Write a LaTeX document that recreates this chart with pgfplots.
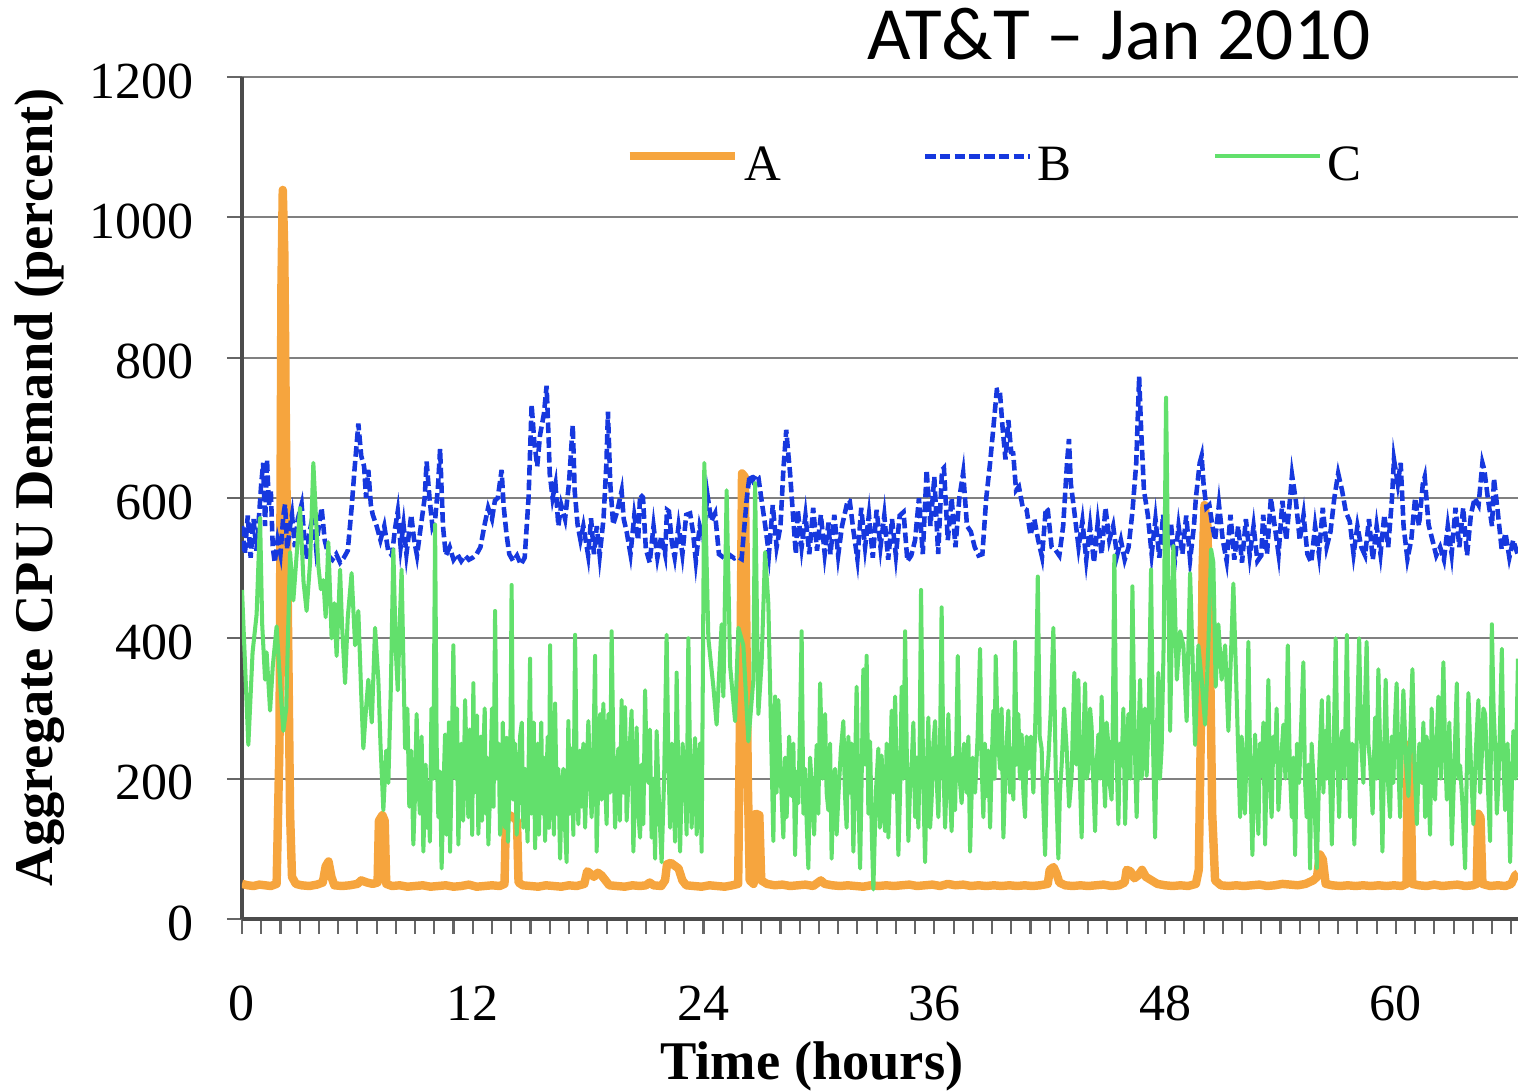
\documentclass[border=0pt]{standalone}
\usepackage{pgfplots}
\pgfplotsset{compat=1.18}
\usepackage{fontspec}
\setmainfont{Liberation Serif}
\newfontfamily\calibri{Carlito}
\definecolor{cA}{RGB}{246,165,62}
\definecolor{cB}{RGB}{22,56,222}
\definecolor{cC}{RGB}{98,224,108}
\begin{document}
\begin{tikzpicture}
\path[use as bounding box] (-2.42,-1.73) rectangle (12.76,9.19);
\begin{axis}[
  scale only axis, width=12.76cm, height=8.42cm,
  xmin=0, xmax=66.35, ymin=0, ymax=1200,
  axis x line=bottom, axis y line=left,
  axis line style={-, draw=black!70, line width=0.9pt},
  xtick={0,12,24,36,48,60}, minor xtick={0,1,...,66},
  ytick={0,200,400,600,800,1000,1200},
  tick align=outside, major tick length=0.15cm, minor tick length=0.15cm,
  tick style={draw=black!60, line width=0.6pt},
  ymajorgrids, grid style={draw=black!50, line width=0.6pt},
  /pgf/number format/.cd, 1000 sep={}, assume math mode=true, /pgfplots/.cd,
  ticklabel style={font=\fontsize{14.8}{17}\selectfont},
  xticklabel style={yshift=-0.40cm},
  yticklabel style={xshift=-0.21cm, yshift=-0.04cm},
  xlabel={Time (hours)}, ylabel={Aggregate CPU Demand (percent)},
  label style={font=\bfseries\fontsize{15.5}{18}\selectfont},
  xlabel style={at={(axis description cs:0.4467,-0.175)}, anchor=center},
  ylabel style={at={(axis description cs:-0.1583,0.513)}, anchor=center},
  legend columns=3,
  legend style={at={(axis description cs:0.300,0.894)}, anchor=west, draw=none, fill=none, inner sep=0pt,
    font=\fontsize{14.5}{17}\selectfont, nodes={inner sep=1pt},
    /tikz/every odd column/.append style={column sep=0.02cm},
    /tikz/every even column/.append style={column sep=1.38cm}},
  legend image code/.code={\draw[#1] (0cm,0.10cm) -- (1.05cm,0.10cm);},
]
\addplot[cA, line width=2.4pt, line join=round] coordinates {
(0,50)(0.3,48)(0.6,47)(0.9,49)(1.2,48)(1.5,47)(1.8,50)(1.95,250)(2.05,900)(2.12,1039)(2.2,950)(2.3,650)(2.4,400)(2.5,150)(2.6,60)(2.8,50)(3.1,48)(3.5,47)(3.9,49)(4.2,52)(4.35,75)(4.5,82)(4.65,60)(4.8,48)(5.2,47)(5.6,48)(6.0,50)(6.2,55)(6.5,52)(6.8,50)(7.05,52)(7.12,140)(7.3,148)(7.42,140)(7.5,50)(7.8,47)(8.2,48)(8.6,46)(9.0,47)(9.4,48)(9.8,46)(10.2,47)(10.6,48)(11.0,46)(11.4,47)(11.8,49)(12.2,46)(12.6,47)(13.0,48)(13.4,47)(13.65,50)(13.72,140)(13.9,148)(14.1,145)(14.3,140)(14.38,52)(14.6,48)(15.0,47)(15.4,46)(15.8,48)(16.2,47)(16.6,46)(17.0,48)(17.4,47)(17.8,50)(17.95,68)(18.1,65)(18.3,60)(18.5,66)(18.7,62)(18.9,55)(19.1,48)(19.5,47)(19.9,46)(20.3,48)(20.7,47)(21.0,48)(21.2,52)(21.4,48)(21.8,47)(22.0,55)(22.1,78)(22.3,80)(22.5,76)(22.7,72)(22.9,55)(23.1,48)(23.5,47)(23.9,46)(24.3,48)(24.7,47)(25.1,46)(25.5,48)(25.8,50)(25.9,300)(26.0,635)(26.15,630)(26.3,200)(26.4,55)(26.6,50)(26.72,150)(26.9,148)(27.0,55)(27.3,50)(27.7,48)(28.1,49)(28.5,47)(28.9,48)(29.3,49)(29.7,47)(30.1,55)(30.3,50)(30.7,48)(31.1,47)(31.5,48)(31.9,47)(32.3,46)(32.7,48)(33.1,47)(33.5,48)(33.9,47)(34.3,48)(34.7,49)(35.1,47)(35.5,48)(35.9,49)(36.3,47)(36.7,50)(37.1,48)(37.5,49)(37.9,47)(38.3,48)(38.7,47)(39.1,48)(39.5,47)(39.9,48)(40.3,47)(40.7,48)(41.1,47)(41.5,48)(41.9,50)(42.0,70)(42.2,74)(42.35,65)(42.5,52)(42.8,48)(43.2,47)(43.6,48)(44.0,47)(44.4,48)(44.8,49)(45.2,47)(45.6,48)(45.9,52)(46.0,70)(46.2,68)(46.4,58)(46.6,62)(46.8,70)(47.0,60)(47.3,55)(47.6,50)(48.0,48)(48.4,47)(48.8,48)(49.2,47)(49.6,50)(49.75,70)(49.85,250)(49.95,500)(50.05,590)(50.2,560)(50.35,350)(50.45,150)(50.6,55)(50.9,48)(51.3,47)(51.7,48)(52.1,47)(52.5,48)(52.9,49)(53.3,47)(53.7,48)(54.1,50)(54.5,49)(54.9,48)(55.3,50)(55.7,55)(55.9,60)(56.05,92)(56.2,85)(56.35,50)(56.7,48)(57.1,47)(57.5,48)(57.9,47)(58.3,48)(58.7,47)(59.1,48)(59.5,47)(59.9,48)(60.3,47)(60.55,50)(60.62,248)(60.75,240)(60.85,50)(61.2,48)(61.6,47)(62.0,49)(62.4,47)(62.8,48)(63.2,49)(63.6,47)(64.0,48)(64.2,50)(64.28,150)(64.4,145)(64.5,50)(64.9,47)(65.3,48)(65.7,47)(66.0,50)(66.2,62)(66.35,65)
};
\addlegendentry{A}
\addplot[cB, line width=1.3pt, dash pattern=on 3pt off 1.2pt] coordinates {
(0,560)(0.15,520)(0.3,575)(0.45,515)(0.6,570)(0.75,525)(0.9,580)(1.0,620)(1.1,650)(1.2,560)(1.3,655)(1.4,590)(1.5,610)(1.6,530)(1.7,508)(1.85,540)(2.0,520)(2.15,575)(2.24,591)(2.35,527)(2.5,560)(2.6,576)(2.75,530)(2.9,570)(3.1,591)(3.25,540)(3.36,513)(3.5,550)(3.7,576)(3.85,530)(4.0,560)(4.14,586)(4.3,540)(4.49,518)(4.7,512)(4.9,520)(5.1,508)(5.3,515)(5.5,525)(5.7,586)(5.85,640)(6.05,706)(6.2,660)(6.35,645)(6.45,600)(6.57,640)(6.7,590)(6.8,576)(7.0,560)(7.2,540)(7.4,560)(7.6,525)(7.8,518)(7.95,555)(8.1,581)(8.25,530)(8.4,562)(8.55,520)(8.8,576)(8.95,540)(9.1,518)(9.3,560)(9.5,600)(9.6,652)(9.75,600)(9.9,560)(10.05,571)(10.2,620)(10.3,670)(10.45,560)(10.6,518)(10.8,530)(11.0,512)(11.2,520)(11.4,510)(11.6,518)(11.8,512)(12.0,515)(12.2,520)(12.4,530)(12.6,560)(12.8,586)(13.0,570)(13.15,596)(13.3,600)(13.5,640)(13.6,590)(13.76,547)(13.9,520)(14.1,510)(14.3,518)(14.5,505)(14.7,515)(14.9,600)(15.06,733)(15.2,680)(15.35,645)(15.5,690)(15.7,720)(15.84,760)(15.95,680)(16.0,635)(16.15,600)(16.3,620)(16.45,560)(16.6,590)(16.8,570)(17.0,620)(17.2,704)(17.3,610)(17.45,562)(17.6,540)(17.75,560)(18.0,518)(18.15,571)(18.3,520)(18.45,560)(18.6,518)(18.8,571)(18.95,650)(19.03,723)(19.15,620)(19.3,562)(19.5,580)(19.74,610)(19.85,570)(20.0,552)(20.2,520)(20.4,575)(20.6,540)(20.7,605)(20.85,601)(21.0,527)(21.2,508)(21.4,560)(21.6,515)(21.8,545)(22.0,520)(22.1,583)(22.2,581)(22.35,537)(22.5,515)(22.7,560)(22.9,520)(23.1,576)(23.3,578)(23.45,552)(23.6,510)(23.8,560)(24.0,540)(24.2,605)(24.4,567)(24.6,578)(24.8,520)(25.0,516)(25.2,512)(25.4,518)(25.6,514)(25.8,516)(25.98,513)(26.1,552)(26.25,600)(26.4,633)(26.55,625)(26.7,633)(26.85,630)(27.0,600)(27.2,562)(27.4,520)(27.6,590)(27.8,530)(28.0,560)(28.15,640)(28.3,697)(28.4,665)(28.5,635)(28.65,576)(28.8,520)(28.9,583)(29.1,530)(29.3,575)(29.5,520)(29.7,586)(29.9,525)(30.1,576)(30.3,520)(30.5,565)(30.6,520)(30.8,576)(31.0,518)(31.2,560)(31.5,597)(31.6,596)(31.8,552)(32.0,513)(32.2,586)(32.4,530)(32.6,576)(32.8,515)(33.0,583)(33.2,530)(33.4,575)(33.6,512)(33.8,570)(34.0,518)(34.2,575)(34.4,580)(34.6,510)(34.8,518)(35.0,540)(35.2,600)(35.4,520)(35.6,640)(35.8,560)(36.0,630)(36.2,520)(36.4,640)(36.5,643)(36.7,540)(36.9,600)(37.1,530)(37.3,600)(37.5,636)(37.7,560)(37.9,552)(38.1,530)(38.3,518)(38.5,520)(38.7,600)(38.9,650)(39.1,709)(39.25,754)(39.4,755)(39.55,700)(39.7,655)(39.85,711)(40.0,665)(40.1,664)(40.25,611)(40.4,616)(40.6,586)(40.8,583)(41.0,547)(41.2,570)(41.4,540)(41.6,516)(41.8,586)(41.9,583)(42.1,530)(42.3,526)(42.5,518)(42.7,560)(42.9,650)(43.0,684)(43.1,620)(43.3,576)(43.5,530)(43.7,567)(43.9,512)(44.1,560)(44.3,508)(44.5,565)(44.7,520)(44.9,586)(45.1,540)(45.3,560)(45.5,518)(45.7,540)(45.9,512)(46.1,530)(46.3,580)(46.5,650)(46.65,773)(46.75,700)(46.9,611)(47.1,576)(47.3,520)(47.5,570)(47.7,515)(47.9,576)(48.1,520)(48.3,565)(48.5,508)(48.7,560)(48.9,520)(49.1,575)(49.3,512)(49.5,560)(49.6,600)(49.8,650)(49.9,660)(50.0,620)(50.15,586)(50.3,590)(50.45,562)(50.6,540)(50.8,591)(51.0,540)(51.2,510)(51.4,576)(51.6,512)(51.8,560)(52.0,508)(52.2,570)(52.4,518)(52.6,560)(52.8,510)(53.0,518)(53.1,576)(53.3,520)(53.5,600)(53.7,560)(53.9,520)(54.1,596)(54.3,540)(54.5,600)(54.6,633)(54.8,596)(55.0,540)(55.2,576)(55.4,520)(55.6,508)(55.8,560)(56.0,520)(56.2,586)(56.4,530)(56.6,552)(56.8,600)(57.0,635)(57.2,611)(57.4,580)(57.6,567)(57.8,520)(58.0,560)(58.2,530)(58.4,518)(58.6,570)(58.8,512)(59.0,560)(59.2,520)(59.4,576)(59.6,530)(59.8,600)(59.9,655)(60.1,620)(60.25,650)(60.4,560)(60.6,513)(60.8,540)(61.0,600)(61.2,560)(61.4,620)(61.5,630)(61.7,562)(61.9,540)(62.1,518)(62.3,530)(62.5,512)(62.7,560)(62.9,520)(63.1,586)(63.3,530)(63.5,586)(63.7,518)(63.9,576)(64.1,600)(64.3,590)(64.5,650)(64.6,640)(64.8,596)(65.0,560)(65.1,628)(65.3,580)(65.5,527)(65.7,550)(65.9,515)(66.1,540)(66.35,518)
};
\addlegendentry{B}
\addplot[cC, line width=1.15pt, line join=round] coordinates {
(0,469)(0.33,248)(0.55,380)(0.76,434)(0.94,572)(1.05,420)(1.2,341)(1.28,380)(1.46,297)(1.6,360)(1.8,417)(2.0,330)(2.15,268)(2.3,300)(2.5,523)(2.67,454)(2.84,518)(3.02,586)(3.2,480)(3.36,439)(3.54,508)(3.71,650)(3.97,503)(4.1,470)(4.23,483)(4.35,430)(4.49,537)(4.66,400)(4.8,450)(4.92,375)(5.1,498)(5.2,420)(5.36,336)(5.5,430)(5.7,493)(5.88,390)(6.05,439)(6.2,320)(6.31,243)(6.45,300)(6.57,341)(6.75,280)(6.92,415)(7.09,341)(7.2,250)(7.35,155)
(7.5,240)(7.61,194)(7.74,330)(7.87,527)(8.0,380)(8.1,326)(8.2,420)(8.3,498)(8.48,243)(8.6,300)(8.7,160)(8.8,240)(8.91,106)(9.0,180)(9.08,292)(9.16,200)(9.25,150)(9.34,260)(9.43,96)(9.55,220)(9.62,130)(9.69,194)(9.77,110)(9.85,300)(9.95,200)(10.04,562)(10.12,250)(10.21,145)(10.3,210)(10.38,72)(10.47,180)(10.56,263)(10.63,120)(10.7,180)(10.76,280)(10.82,96)(10.9,210)(10.99,390)(11.05,260)(11.1,200)(11.18,300)(11.25,106)(11.32,190)(11.4,250)(11.5,140)(11.6,312)(11.68,220)(11.77,145)(11.84,270)(11.9,230)(11.97,120)(12.03,336)(12.09,180)(12.15,200)(12.22,290)(12.29,121)(12.36,200)(12.42,260)(12.48,140)(12.55,233)(12.62,300)(12.68,150)(12.75,230)(12.81,106)(12.9,180)(13.0,300)(13.08,160)(13.16,439)(13.25,200)(13.35,250)(13.42,120)(13.5,150)(13.56,280)(13.62,220)(13.69,130)(13.76,258)(13.83,110)(13.9,180)(13.96,260)(14.02,476)(14.1,170)(14.2,250)(14.28,120)(14.37,155)(14.46,260)(14.55,280)(14.63,130)(14.72,214)(14.85,110)(14.98,371)(15.04,150)(15.1,200)(15.17,280)(15.24,101)(15.3,190)(15.37,250)(15.44,120)(15.5,204)(15.56,280)(15.63,150)(15.7,230)(15.76,111)(15.83,200)(15.9,260)(15.96,130)(16.02,390)(16.08,220)(16.15,180)(16.22,120)(16.28,307)(16.37,150)(16.45,214)(16.54,86)(16.62,180)(16.71,214)(16.8,130)(16.88,81)(16.97,282)(17.05,150)(17.14,243)(17.23,120)(17.32,405)(17.4,220)(17.49,135)(17.57,240)(17.66,160)(17.75,250)(17.84,130)(17.92,200)(18.01,282)(18.1,200)(18.18,145)(18.27,230)(18.36,375)(18.44,96)(18.53,200)(18.62,292)(18.7,170)(18.79,307)(18.88,200)(18.96,135)(19.05,292)(19.14,180)(19.22,410)(19.31,240)(19.4,130)(19.48,200)(19.57,243)(19.65,140)(19.74,312)(19.83,180)(19.92,302)(20.0,140)(20.09,194)(20.17,250)(20.26,297)(20.35,96)(20.44,190)(20.52,273)(20.61,150)(20.7,116)(20.78,220)(20.87,135)(20.96,326)(21.04,220)(21.13,194)(21.21,270)(21.3,116)(21.39,200)(21.48,86)(21.56,268)(21.69,160)(21.82,81)(21.95,200)(22.08,405)(22.17,230)(22.26,130)(22.35,250)(22.43,194)(22.52,110)(22.6,351)(22.69,200)(22.78,96)(22.91,250)(23.04,194)(23.12,120)(23.21,400)(23.3,220)(23.38,130)(23.47,210)(23.56,258)(23.64,120)(23.73,170)(23.81,250)(23.9,96)
(24.04,650)(24.25,400)(24.51,331)(24.68,277)(24.94,420)(25.03,317)(25.2,611)(25.38,361)(25.64,282)(25.81,415)(26.07,390)(26.33,253)(26.59,341)(26.68,621)(26.85,292)(27.02,366)(27.2,523)(27.37,449)
(27.63,111)(27.68,220)(27.72,317)(27.8,180)(27.89,312)(28.02,200)(28.15,116)(28.24,230)(28.32,145)(28.45,260)(28.58,175)(28.67,250)(28.76,91)(28.85,210)(28.93,165)(29.02,280)(29.1,410)(29.19,150)(29.28,214)(29.36,140)(29.45,72)(29.54,230)(29.62,194)(29.75,120)(29.88,248)(29.97,150)(30.06,336)(30.19,200)(30.32,292)(30.4,180)(30.49,155)(30.58,250)(30.66,86)(30.75,200)(30.84,214)(30.92,120)(31.01,175)(31.14,240)(31.27,282)(31.35,180)(31.44,130)(31.53,260)(31.62,180)(31.7,250)(31.79,96)(31.87,200)(31.96,331)(32.05,180)(32.14,72)(32.22,200)(32.31,356)(32.4,220)(32.48,375)(32.57,150)(32.66,253)(32.75,120)(32.83,42)(32.96,180)(33.09,243)(33.17,130)(33.26,233)(33.35,160)(33.44,125)(33.52,250)(33.61,116)(33.7,200)(33.78,297)(33.87,180)(33.96,317)(34.05,200)(34.13,91)(34.22,180)(34.3,331)(34.39,200)(34.48,410)(34.56,250)(34.65,111)(34.73,180)(34.82,219)(34.91,280)(35.0,145)(35.08,230)(35.17,130)(35.24,250)(35.31,469)(35.42,200)(35.52,81)(35.6,200)(35.69,287)(35.78,130)(35.86,170)(35.95,250)(36.04,282)(36.12,200)(36.21,145)(36.3,250)(36.38,444)(36.47,220)(36.56,130)(36.64,200)(36.73,292)(36.82,180)(36.9,125)(36.99,230)(37.08,155)(37.15,260)(37.22,375)(37.32,200)(37.42,165)(37.55,250)(37.68,180)(37.77,260)(37.86,96)(37.99,230)(38.12,180)(38.25,260)(38.38,385)(38.46,220)(38.55,145)(38.63,250)(38.72,175)(38.81,240)(38.9,130)(38.98,220)(39.07,297)(39.13,200)(39.19,375)(39.3,260)(39.42,214)(39.5,300)(39.59,116)(39.72,230)(39.85,297)(39.93,180)(40.02,243)(40.11,170)(40.2,395)(40.28,220)(40.37,292)(40.45,200)(40.54,263)(40.63,180)(40.72,145)(40.8,260)(40.89,214)(41.02,260)(41.15,180)(41.27,300)(41.38,488)(41.48,260)(41.58,243)(41.67,160)(41.76,91)(41.85,200)(41.93,228)(42.06,300)(42.19,415)(42.32,200)(42.45,86)(42.53,180)(42.62,219)(42.75,300)(42.88,243)(43.01,160)(43.14,204)(43.21,280)(43.28,351)(43.38,220)(43.49,341)(43.57,200)(43.66,116)(43.75,250)(43.84,336)(43.92,200)(44.01,214)(44.1,300)(44.18,273)(44.27,190)(44.36,125)(44.44,220)(44.53,263)(44.62,200)(44.7,317)(44.79,220)(44.88,160)(44.96,280)(45.05,248)(45.13,190)(45.22,170)(45.29,300)(45.36,518)(45.46,250)(45.57,135)(45.65,250)(45.74,219)(45.83,300)(45.92,135)(46.0,220)(46.09,292)(46.2,200)(46.3,474)(46.41,260)(46.52,145)(46.61,250)(46.7,341)(46.78,200)(46.87,263)(46.95,300)(47.04,204)(47.15,300)(47.27,498)(47.37,250)(47.48,116)(47.56,250)(47.65,351)(47.73,200)(47.82,243)(47.93,400)
(48.05,743)(48.26,268)(48.43,532)(48.61,341)(48.78,410)(48.95,390)(49.12,282)(49.3,493)(49.56,248)(49.73,390)(49.9,341)(50.08,277)(50.25,390)(50.39,527)(50.51,508)(50.63,331)(50.77,420)(50.94,341)(51.12,390)(51.29,268)(51.55,478)(51.72,317)
(51.9,145)(51.98,260)(52.07,214)(52.15,150)(52.24,243)(52.33,395)(52.43,200)(52.54,91)(52.61,200)(52.68,263)(52.76,180)(52.85,121)(52.93,250)(53.02,204)(53.11,280)(53.2,106)(53.28,220)(53.37,341)(53.45,200)(53.54,145)(53.63,260)(53.72,224)(53.8,300)(53.89,155)(54.02,220)(54.15,277)(54.26,200)(54.38,390)(54.48,220)(54.59,145)(54.67,230)(54.76,91)(54.86,250)(54.97,194)(55.08,280)(55.19,366)(55.27,200)(55.36,145)(55.45,220)(55.54,72)(55.62,250)(55.71,204)(55.8,140)(55.89,72)(56.02,220)(56.15,312)(56.23,180)(56.32,268)(56.4,200)(56.49,317)(56.58,200)(56.67,106)(56.77,250)(56.87,400)(56.96,230)(57.05,145)(57.13,250)(57.22,268)(57.33,200)(57.45,405)(57.53,260)(57.62,145)(57.73,250)(57.84,106)(57.96,250)(58.09,400)(58.2,250)(58.31,194)(58.39,300)(58.48,395)(58.57,250)(58.66,224)(58.79,150)(58.92,287)(59.0,200)(59.09,356)(59.2,220)(59.3,96)(59.38,220)(59.47,341)(59.58,200)(59.7,145)(59.78,260)(59.87,194)(59.95,280)(60.04,336)(60.13,220)(60.22,145)(60.3,250)(60.39,326)(60.52,230)(60.65,175)(60.75,260)(60.86,356)(60.97,220)(61.09,135)(61.22,250)(61.35,194)(61.43,280)(61.52,145)(61.6,260)(61.69,194)(61.78,120)(61.86,300)(61.95,220)(62.04,170)(62.12,250)(62.21,317)(62.34,200)(62.47,366)(62.56,240)(62.65,170)(62.78,280)(62.91,106)(63.04,220)(63.17,336)(63.25,200)(63.34,219)(63.47,160)(63.6,72)(63.68,200)(63.77,322)(63.9,220)(64.03,135)(64.16,240)(64.29,312)(64.38,180)(64.47,233)(64.55,300)(64.64,292)(64.77,200)(64.9,111)(64.99,420)(65.08,300)(65.16,248)(65.25,150)(65.33,194)(65.42,280)(65.51,385)(65.6,220)(65.68,155)(65.81,250)(65.94,81)(66.02,180)(66.11,268)(66.23,200)(66.35,371)
};
\addlegendentry{C}
\end{axis}
\node[anchor=base, font=\calibri\fontsize{21.4}{25}\selectfont, inner sep=0pt] at (8.77,8.59) {AT\&T – Jan 2010};
\end{tikzpicture}
\end{document}
